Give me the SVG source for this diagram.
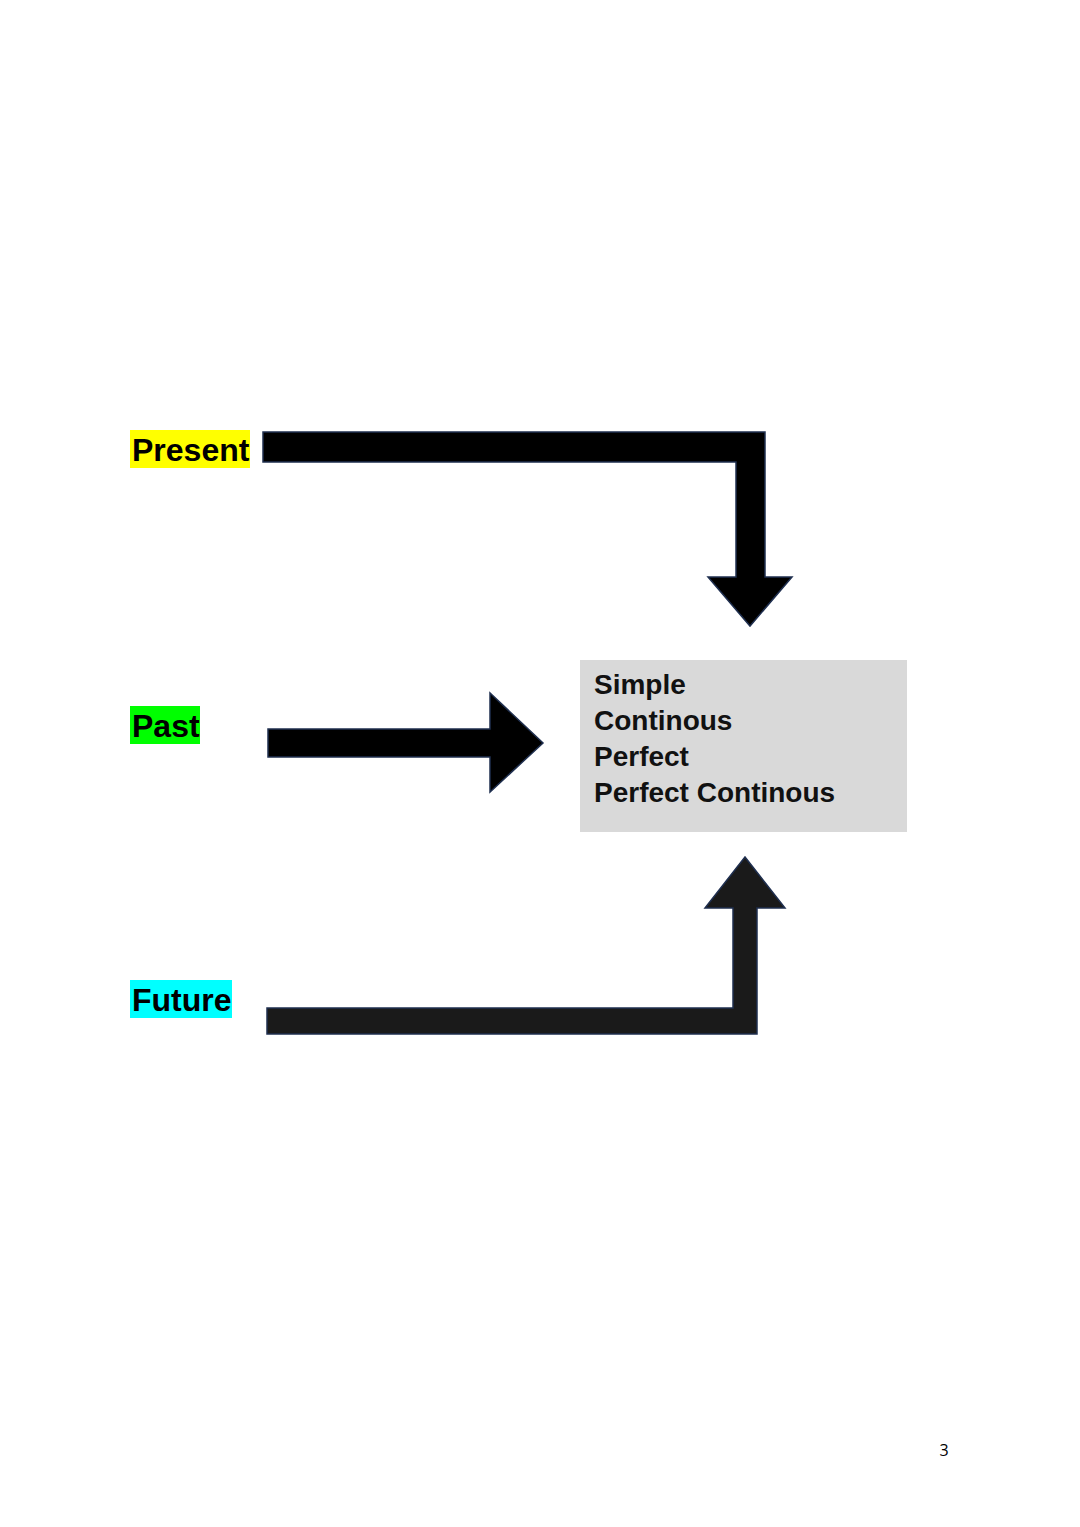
<svg xmlns="http://www.w3.org/2000/svg" width="1080" height="1527" viewBox="0 0 1080 1527">
<style>
.lbl{font-family:"Liberation Sans",Arial,sans-serif;font-weight:bold;font-size:32px;fill:#000}
.box{font-family:"Liberation Sans",Arial,sans-serif;font-weight:bold;font-size:28px;fill:#111}
.arr{fill:#000;stroke:#1f2f4f;stroke-width:1.5}
</style>
<rect width="1080" height="1527" fill="#fff"/>
<g id="present"><rect x="130" y="430" width="120" height="38" fill="#ffff00"/><text class="lbl" x="132" y="461">Present</text></g>
<g id="past"><rect x="130" y="706" width="70" height="38" fill="#00ff00"/><text class="lbl" x="132" y="737">Past</text></g>
<g id="future"><rect x="130" y="980" width="102" height="38" fill="#00ffff"/><text class="lbl" x="132" y="1011">Future</text></g>
<g id="tenses"><rect x="580" y="660" width="327" height="172" fill="#d9d9d9"/>
<text class="box" x="594" y="694">Simple</text>
<text class="box" x="594" y="730">Continous</text>
<text class="box" x="594" y="766">Perfect</text>
<text class="box" x="594" y="802">Perfect Continous</text></g>
<g id="connectors">
<path class="arr" d="M263,432 H765 V577 H792 L750,626 L708,577 H736 V462 H263 Z"/>
<path class="arr" d="M268,729 H490 V693 L543,743 L490,792 V757 H268 Z"/>
<path class="arr" style="fill:#1a1a1a" d="M267,1034 H757 V908 H785 L745,857 L705,908 H733 V1008 H267 Z"/>
</g>
<text x="944" y="1456" font-family="'Open Sans',sans-serif" font-size="16" text-anchor="middle">3</text>
</svg>
